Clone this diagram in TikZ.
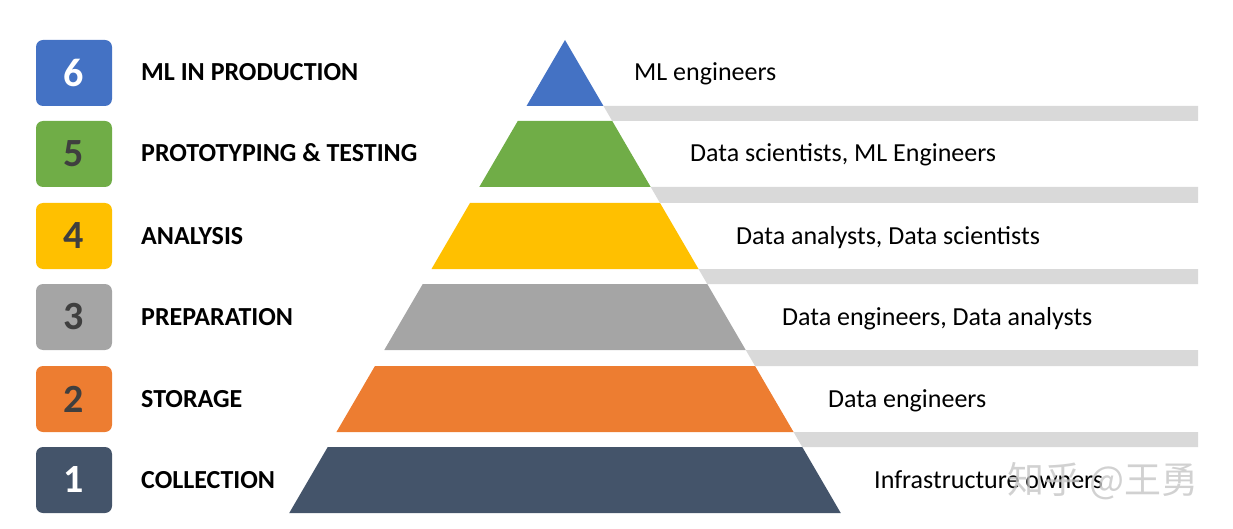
\documentclass[tikz,border=0pt]{standalone}
\usepackage{fontspec}
\setmainfont{Carlito}
\newfontfamily\cjk{Noto Sans CJK SC}
\definecolor{cBlue}{HTML}{4472C4}
\definecolor{cGreen}{HTML}{70AD47}
\definecolor{cYellow}{HTML}{FFC000}
\definecolor{cGray}{HTML}{A5A5A5}
\definecolor{cOrange}{HTML}{ED7D31}
\definecolor{cNavy}{HTML}{44546A}
\definecolor{cBar}{HTML}{D9D9D9}
\definecolor{cDark}{HTML}{3F3F3F}
\begin{document}
\begin{tikzpicture}[x=1pt,y=-1pt,
  numbox/.style={rounded corners=7pt, minimum width=76pt, minimum height=66pt, inner sep=0pt, font=\bfseries\fontsize{40}{40}\selectfont},
  stagelabel/.style={anchor=base west, inner sep=0pt, font=\bfseries\fontsize{26}{26}\selectfont},
  rolelabel/.style={anchor=base west, inner sep=0pt, font=\fontsize{26}{26}\selectfont},
  barfill/.style={fill=cBar, draw=none}]
\useasboundingbox (0,0) rectangle (1233,529);
\def\apx{565}\def\apy{40}\def\slp{0.583}
% layers: top/bottom/colour/number colour/number/stage/role/role x
\foreach \ytop/\ybot/\lcol/\ncol/\num/\stg/\rol/\rx in {
  40/106/cBlue/white/6/ML IN PRODUCTION/ML engineers/634,
  121/187/cGreen/cDark/5/PROTOTYPING \& TESTING/{Data scientists, ML Engineers}/690,
  203/269/cYellow/cDark/4/ANALYSIS/{Data analysts, Data scientists}/736,
  284/350/cGray/cDark/3/PREPARATION/{Data engineers, Data analysts}/782,
  366/432/cOrange/cDark/2/STORAGE/Data engineers/828,
  447/513/cNavy/white/1/COLLECTION/Infrastructure owners/874}{
  \pgfmathsetmacro{\hwT}{(\ytop-\apy)*\slp}
  \pgfmathsetmacro{\hwB}{(\ybot-\apy)*\slp}
  \pgfmathsetmacro{\cy}{(\ytop+\ybot)/2}
  \fill[\lcol] ({\apx-\hwT},\ytop) -- ({\apx+\hwT},\ytop) -- ({\apx+\hwB},\ybot) -- ({\apx-\hwB},\ybot) -- cycle;
  \node[numbox, fill=\lcol, text=\ncol] (num\num) at (74,\cy) {\num};
  \node[stagelabel] (stage\num) at (141,{\cy+8}) {\stg};
  \node[rolelabel] (role\num) at (\rx,{\cy+8}) {\rol};
}
% gray bars between layers
\foreach \ybot/\ytop in {106/121, 187/203, 269/284, 350/366, 432/447}{
  \pgfmathsetmacro{\hwB}{(\ybot-\apy)*\slp}
  \pgfmathsetmacro{\hwT}{(\ytop-\apy)*\slp}
  \path[barfill] ({\apx+\hwB},\ybot) -- (1198,\ybot) -- (1198,\ytop) -- ({\apx+\hwT},\ytop) -- cycle;
}
\node[anchor=east, inner sep=0pt, text=gray!45, opacity=0.8, font=\cjk\fontsize{37}{37}\selectfont] (wm) at (1199,481) {知乎 @王勇};
\end{tikzpicture}
\end{document}
